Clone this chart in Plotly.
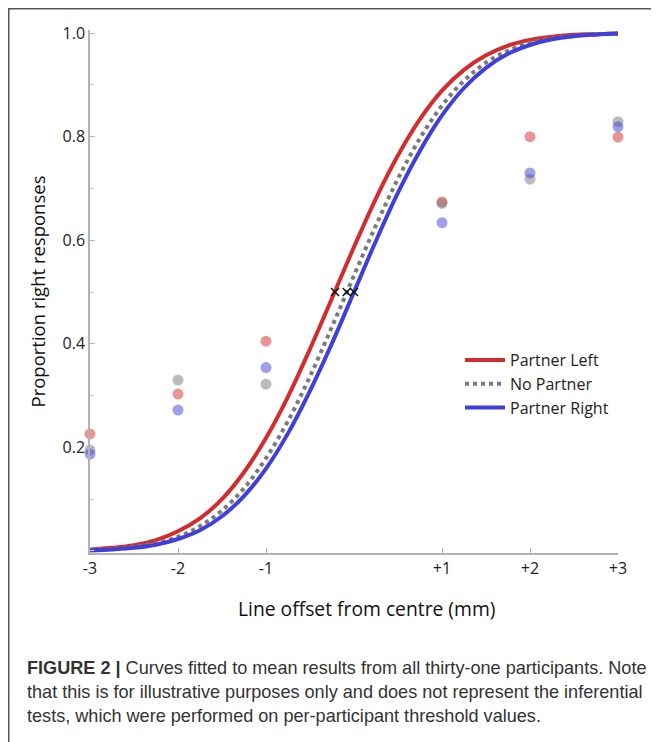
import plotly.graph_objects as go

# ---- data ----
offsets = [-3, -2, -1, 1, 2, 3]
tick_labels = ["-3", "-2", "-1", "+1", "+2", "+3"]

dots_left = [0.226, 0.303, 0.405, 0.674, 0.800, 0.799]
dots_none = [0.195, 0.330, 0.322, 0.671, 0.718, 0.829]
dots_right = [0.187, 0.272, 0.354, 0.634, 0.730, 0.819]

curve_x = [-3, -2.75, -2.5, -2.25, -2, -1.75, -1.5, -1.25, -1, -0.75, -0.5, -0.25,
           0, 0.25, 0.5, 0.75, 1, 1.25, 1.5, 1.75, 2, 2.25, 2.5, 2.75, 3]
curve_left = [0.003, 0.006, 0.011, 0.021, 0.038, 0.063, 0.100, 0.152, 0.218, 0.298,
              0.390, 0.488, 0.587, 0.681, 0.764, 0.834, 0.889, 0.929, 0.957, 0.976,
              0.987, 0.993, 0.997, 0.998, 0.999]
curve_none = [0.002, 0.004, 0.008, 0.015, 0.027, 0.048, 0.078, 0.121, 0.179, 0.251,
              0.337, 0.433, 0.532, 0.629, 0.719, 0.797, 0.860, 0.908, 0.943, 0.966,
              0.981, 0.990, 0.995, 0.998, 0.999]
curve_right = [0.001, 0.003, 0.006, 0.012, 0.023, 0.040, 0.067, 0.106, 0.159, 0.227,
               0.309, 0.401, 0.500, 0.599, 0.692, 0.773, 0.841, 0.894, 0.933, 0.960,
               0.977, 0.988, 0.994, 0.997, 0.999]

thresholds_x = [-0.216, -0.083, 0.0]
thresholds_y = [0.5, 0.5, 0.5]

series_names = ["Partner Left", "No Partner", "Partner Right"]

x_title = "Line offset from centre (mm)"
y_title = "Proportion right responses"

caption_lines = [
    "<b>FIGURE 2 |</b> Curves fitted to mean results from all thirty-one participants. Note",
    "that this is for illustrative purposes only and does not represent the inferential",
    "tests, which were performed on per-participant threshold values.",
]

RED = "#d42c2c"
GRAY = "#7a7a7a"
BLUE = "#3f3fdc"

# page body adds an 8px offset, so the figure is sized to fit the window
W, H = 651, 734
ML, MR, MT, MB = 82, 41, 22, 189
PW, PH = W - ML - MR, H - MT - MB  # plot area size in px


def px_to_paper_x(px):
    return (px - ML) / PW


def py_to_paper_y(py):
    return (MT + PH - py) / PH


fig = go.Figure()

# dots
for vals, col in [(dots_left, "rgba(214,44,44,0.5)"),
                  (dots_none, "rgba(120,120,120,0.5)"),
                  (dots_right, "rgba(63,63,220,0.5)")]:
    fig.add_trace(go.Scatter(x=offsets, y=vals, mode="markers",
                             marker=dict(size=11, color=col, line=dict(width=0)),
                             showlegend=False, cliponaxis=False, hoverinfo="skip"))

# curves
fig.add_trace(go.Scatter(x=curve_x, y=curve_left, mode="lines", name=series_names[0],
                         line=dict(color=RED, width=4, shape="spline")))
fig.add_trace(go.Scatter(x=curve_x, y=curve_none, mode="lines", name=series_names[1],
                         line=dict(color=GRAY, width=4, dash="dot", shape="spline")))
fig.add_trace(go.Scatter(x=curve_x, y=curve_right, mode="lines", name=series_names[2],
                         line=dict(color=BLUE, width=4, shape="spline")))

# threshold crosses
fig.add_trace(go.Scatter(x=thresholds_x, y=thresholds_y, mode="markers",
                         marker=dict(symbol="x-thin", size=8, color="#111",
                                     line=dict(width=1.5, color="#111")),
                         showlegend=False, hoverinfo="skip"))

FONT = "Open Sans, Lato, sans-serif"

fig.update_layout(
    width=W, height=H,
    margin=dict(l=ML, r=MR, t=MT, b=MB),
    paper_bgcolor="white", plot_bgcolor="white",
    font=dict(family=FONT, size=16, color="#222"),
    xaxis=dict(range=[-3, 3], tickvals=offsets, ticktext=tick_labels,
               showgrid=False, zeroline=False, showline=True, linecolor="#b3b3b3",
               linewidth=1.5, ticks="inside", ticklen=5, tickcolor="#b3b3b3",
               tickfont=dict(family=FONT, size=16, color="#222")),
    yaxis=dict(range=[-0.004, 1.006], tickvals=[0.2, 0.4, 0.6, 0.8, 1.0],
               ticktext=["0.2", "0.4", "0.6", "0.8", "1.0"],
               showgrid=False, zeroline=False, showline=True, linecolor="#b3b3b3",
               linewidth=1.5, ticks="inside", ticklen=5, tickcolor="#b3b3b3",
               minor=dict(dtick=0.1, tick0=0, ticks="inside", ticklen=4,
                          tickcolor="#c8c8c8"),
               tickfont=dict(family=FONT, size=16, color="#222"),
               title=dict(text=y_title,
                          font=dict(family=FONT, size=18.5, color="#111"), standoff=12)),
    legend=dict(x=px_to_paper_x(452), y=py_to_paper_y(335), xanchor="left", yanchor="top",
                itemwidth=40,
                font=dict(family=FONT, size=16, color="#222"), bgcolor="rgba(0,0,0,0)"),
)

# x axis title (sits slightly right of the plot centre in the original)
fig.add_annotation(text=x_title, xref="paper", yref="paper",
                   x=px_to_paper_x(358), y=py_to_paper_y(600),
                   xanchor="center", yanchor="middle", showarrow=False,
                   font=dict(family=FONT, size=19.3, color="#111"))

# frame around the figure
fig.add_shape(type="rect", xref="paper", yref="paper",
              x0=px_to_paper_x(0.75), x1=px_to_paper_x(649), y0=py_to_paper_y(760),
              y1=py_to_paper_y(0.75),
              line=dict(color="#555", width=1.5), layer="below")

# caption
cap_y = [660, 684, 708]
for txt, py in zip(caption_lines, cap_y):
    fig.add_annotation(text=txt, xref="paper", yref="paper",
                       x=px_to_paper_x(17), y=py_to_paper_y(py),
                       xanchor="left", yanchor="middle", showarrow=False,
                       font=dict(family="Liberation Sans, Arial", size=18.1, color="#333"))

fig.write_html("out.html")
